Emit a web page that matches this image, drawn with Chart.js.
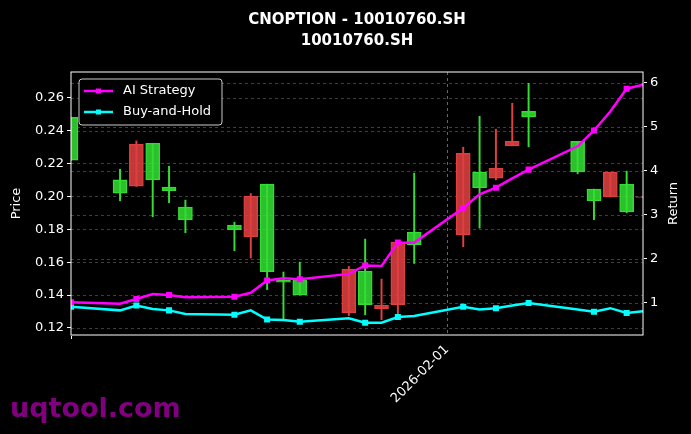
<!DOCTYPE html>
<html>
<head>
<meta charset="utf-8">
<script src="https://cdn.jsdelivr.net/npm/chart.js@4.4.0/dist/chart.umd.min.js"></script>
<style>
  html, body { margin: 0; padding: 0; background: #000; }
  #wrap { position: relative; width: 691px; height: 434px; }
  #mark { position: absolute; left: 10px; top: 392px; font: bold 27px "DejaVu Sans", sans-serif; color: #800080; }
</style>
</head>
<body>
<div id="wrap">
  <canvas id="chart" width="691" height="434"></canvas>
  <div id="mark">uqtool.com</div>
</div>
<script>
// Trading days
const dates = ['2026-01-09','2026-01-12','2026-01-13','2026-01-14','2026-01-15','2026-01-16',
  '2026-01-19','2026-01-20','2026-01-21','2026-01-22','2026-01-23','2026-01-26','2026-01-27',
  '2026-01-28','2026-01-29','2026-01-30','2026-02-02','2026-02-03','2026-02-04','2026-02-05',
  '2026-02-06','2026-02-09','2026-02-10','2026-02-11','2026-02-12','2026-02-13'];
const opens  = [0.222,0.202,0.2317,0.210,0.2034,0.1857,0.1797,0.2001,0.1542,0.1478,0.140,0.1558,0.1342,
  0.1338,0.1722,0.1706,0.2262,0.2052,0.2171,0.2335,0.2483,0.2149,0.1973,0.2147,0.1906,0.1997];
const highs  = [0.248,0.2165,0.2337,0.2323,0.2183,0.1977,0.1843,0.2017,0.2074,0.154,0.160,0.1574,0.174,
  0.1497,0.1722,0.2141,0.2299,0.2487,0.2408,0.2566,0.2687,0.2335,0.2044,0.2147,0.2153,0.1997];
const lows   = [0.222,0.1973,0.206,0.1876,0.1961,0.1779,0.1669,0.1625,0.1433,0.1255,0.140,0.1275,0.128,
  0.125,0.1285,0.1592,0.1694,0.1807,0.2100,0.2307,0.2301,0.2137,0.1858,0.1997,0.190,0.1993];
const closes = [0.248,0.210,0.2062,0.2323,0.2056,0.1934,0.1825,0.1754,0.2074,0.1489,0.1493,0.1293,0.1546,
  0.1317,0.1342,0.1783,0.1766,0.2147,0.211,0.2307,0.2517,0.2335,0.2044,0.1997,0.2074,0.1993];
const aiReturn = [1.015,0.98,1.09,1.20,1.18,1.13,1.14,1.23,1.51,1.56,1.54,1.66,1.85,1.84,2.37,2.37,
  3.16,3.47,3.62,3.83,4.03,4.56,4.92,5.35,5.87,5.96];
const bhReturn = [0.91,0.83,0.94,0.86,0.83,0.75,0.73,0.83,0.62,0.61,0.57,0.65,0.55,0.55,0.68,0.70,
  0.91,0.85,0.88,0.94,1.00,0.85,0.80,0.88,0.77,0.81];
const xTickLabels = ['2026-02-01'];
const priceTicks = [0.12,0.14,0.16,0.18,0.20,0.22,0.24,0.26];
const returnTicks = [1,2,3,4,5,6];

const DAY = 86400000;
const t0 = Date.parse(dates[0]);
const dayOf = d => Math.round((Date.parse(d) - t0) / DAY);
const xs = dates.map(dayOf);
const tickDays = xTickLabels.map(dayOf);

const GREEN = '#33dd33', RED = '#e04040';
const colors = opens.map((o, i) => closes[i] >= o ? GREEN : RED);
const markerR = dates.map((d, i) => i % 2 === 0 ? 2.5 : 0);

// dashed grid lines, drawn under the data
const grid = {
  id: 'grid',
  beforeDatasetsDraw(chart) {
    const ctx = chart.ctx, a = chart.chartArea, s = chart.scales;
    ctx.save();
    ctx.lineWidth = 0.8;
    ctx.setLineDash([3, 3]);
    ctx.strokeStyle = 'rgba(130,130,130,0.6)';
    ctx.beginPath();
    priceTicks.forEach(v => { const y = Math.round(s.y.getPixelForValue(v)) + 0.5; ctx.moveTo(a.left, y); ctx.lineTo(a.right, y); });
    returnTicks.forEach(v => { const y = Math.round(s.y2.getPixelForValue(v)) + 0.5; ctx.moveTo(a.left, y); ctx.lineTo(a.right, y); });
    ctx.stroke();
    ctx.strokeStyle = 'rgba(160,160,160,0.8)';
    ctx.beginPath();
    tickDays.forEach(v => { const x = Math.round(s.x.getPixelForValue(v)) + 0.5; ctx.moveTo(x, a.top); ctx.lineTo(x, a.bottom); });
    ctx.stroke();
    ctx.restore();
  }
};

const overlay = {
  id: 'overlay',
  afterDraw(chart) {
    const ctx = chart.ctx, a = chart.chartArea;
    ctx.save();
    ctx.fillStyle = '#fff';
    ctx.font = 'bold 15px "DejaVu Sans", sans-serif';
    ctx.textAlign = 'center';
    ctx.fillText('CNOPTION - 10010760.SH', 357, 24);
    ctx.fillText('10010760.SH', 357, 45);
    // axis titles
    ctx.font = '13px "DejaVu Sans", sans-serif';
    ctx.textBaseline = 'middle';
    [['Price', 17], ['Return', 674]].forEach(([t, x]) => {
      ctx.save(); ctx.translate(x, (a.top + a.bottom) / 2); ctx.rotate(-Math.PI / 2);
      ctx.fillText(t, 0, 0); ctx.restore();
    });
    // frame
    ctx.strokeStyle = '#fff'; ctx.lineWidth = 1;
    ctx.strokeRect(a.left, a.top, a.right - a.left, a.bottom - a.top);
    // legend
    ctx.fillStyle = '#000';
    ctx.strokeStyle = '#ccc';
    ctx.beginPath(); ctx.roundRect(79, 79, 143, 46, 3); ctx.fill(); ctx.stroke();
    ctx.textAlign = 'left';
    [['AI Strategy', '#ff00ff', 91], ['Buy-and-Hold', '#00ffff', 112]].forEach(([t, c, y]) => {
      ctx.strokeStyle = c; ctx.lineWidth = 2.5;
      ctx.beginPath(); ctx.moveTo(84, y); ctx.lineTo(113, y); ctx.stroke();
      ctx.fillStyle = c; ctx.fillRect(96, y - 2.5, 5, 5);
      ctx.fillStyle = '#fff'; ctx.fillText(t, 123, y);
    });
    ctx.restore();
  }
};

new Chart(document.getElementById('chart'), {
  type: 'bar',
  data: {
    datasets: [
      { type: 'line', label: 'AI Strategy', yAxisID: 'y2', order: 0,
        data: xs.map((x, i) => ({ x, y: aiReturn[i] })),
        borderColor: '#ff00ff', backgroundColor: '#ff00ff', borderWidth: 2.5,
        pointRadius: markerR, pointStyle: 'rect', tension: 0 },
      { type: 'line', label: 'Buy-and-Hold', yAxisID: 'y2', order: 1,
        data: xs.map((x, i) => ({ x, y: bhReturn[i] })),
        borderColor: '#00ffff', backgroundColor: '#00ffff', borderWidth: 2.5,
        pointRadius: markerR, pointStyle: 'rect', tension: 0 },
      { label: 'body', yAxisID: 'y', order: 2, grouped: false, barThickness: 14,
        data: xs.map((x, i) => ({ x, y: [opens[i], closes[i] === opens[i] ? opens[i] + 0.0004 : closes[i]] })),
        backgroundColor: colors.map(c => c + 'dd'), borderColor: colors, borderWidth: 0.8, borderSkipped: false },
      { label: 'wick', yAxisID: 'y', order: 3, grouped: false, barThickness: 1.3,
        data: xs.map((x, i) => ({ x, y: [lows[i], highs[i]] })),
        backgroundColor: colors }
    ]
  },
  options: {
    responsive: false,
    animation: false,
    layout: { padding: { top: 72 } },
    plugins: { legend: { display: false }, tooltip: { enabled: false } },
    scales: {
      x: {
        type: 'linear', min: 0, max: 35, offset: false,
        afterBuildTicks: s => { s.ticks = tickDays.map(v => ({ value: v })); },
        afterFit: s => { s.height = 99; },
        ticks: { color: '#fff', font: { size: 13, family: 'DejaVu Sans' }, maxRotation: 45, minRotation: 45,
          callback: v => xTickLabels[tickDays.indexOf(v)] },
        grid: { drawOnChartArea: false, tickLength: 4, tickColor: '#fff' }
      },
      y: {
        position: 'left', min: 0.1157, max: 0.2756,
        afterBuildTicks: s => { s.ticks = priceTicks.map(v => ({ value: v })); },
        afterFit: s => { s.width = 71; },
        ticks: { color: '#fff', font: { size: 13, family: 'DejaVu Sans' }, callback: v => v.toFixed(2) },
        grid: { drawOnChartArea: false, tickLength: 4, tickColor: '#fff' }
      },
      y2: {
        position: 'right', min: 0.27, max: 6.25,
        afterBuildTicks: s => { s.ticks = returnTicks.map(v => ({ value: v })); },
        afterFit: s => { s.width = 48; },
        ticks: { color: '#fff', font: { size: 13, family: 'DejaVu Sans' } },
        grid: { drawOnChartArea: false, tickLength: 4, tickColor: '#fff' }
      }
    }
  },
  plugins: [grid, overlay]
});
</script>
</body>
</html>
